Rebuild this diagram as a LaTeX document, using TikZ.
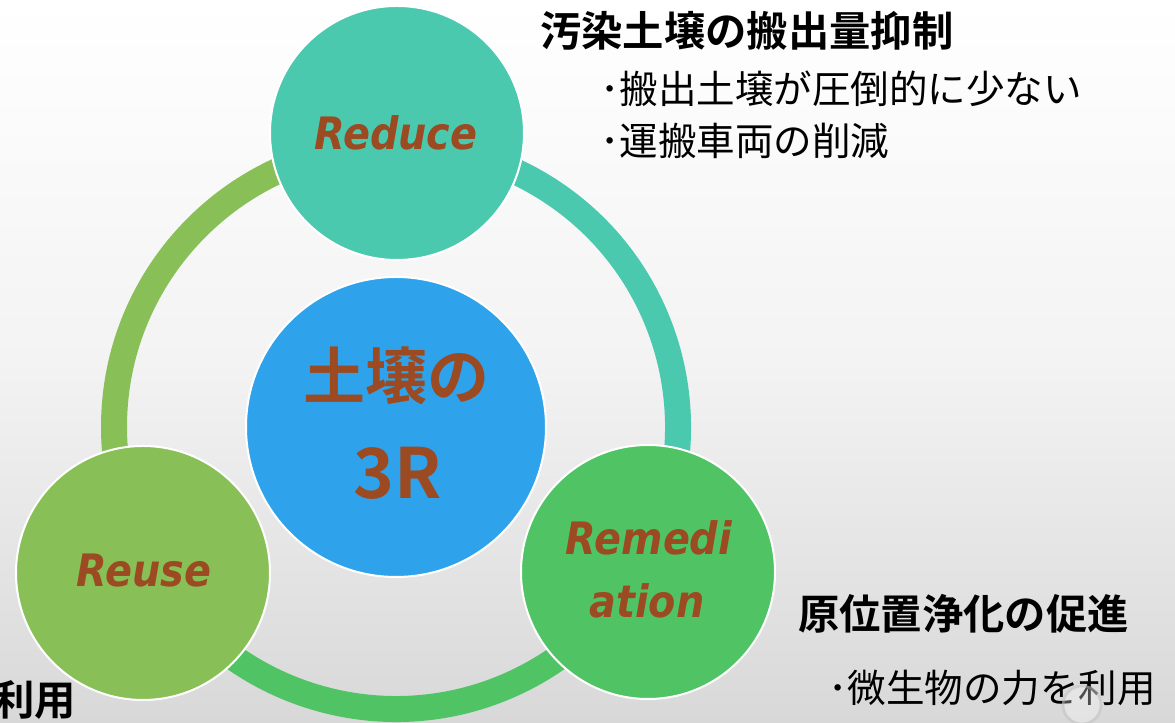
\documentclass[tikz,border=0pt]{standalone}
\usepackage{fontspec}
\newfontfamily\jp{Noto Sans CJK JP}[BoldFont={Noto Sans CJK JP Bold}]
\newfontfamily\lat{DejaVu Sans}[FakeStretch=0.89]
\definecolor{cteal}{RGB}{75,201,174}
\definecolor{clime}{RGB}{136,192,87}
\definecolor{cgreen}{RGB}{80,196,100}
\definecolor{cblue}{RGB}{46,163,236}
\definecolor{cbrown}{RGB}{156,74,34}
\definecolor{bgmid}{RGB}{243,243,243}
\definecolor{bgbot}{RGB}{216,216,216}
\begin{document}
\begin{tikzpicture}[x=0.75pt,y=0.75pt,
  ball/.style={circle, draw=white, line width=1.5pt, minimum size=190.5pt, inner sep=0pt},
  rtxt/.style={font=\lat\bfseries\itshape\fontsize{33.5}{33.5}\selectfont, text=cbrown, inner sep=0pt, anchor=base},
  ctxt/.style={font=\jp\bfseries\fontsize{46.5}{46.5}\selectfont, text=cbrown, inner sep=0pt},
  ringarc/.style={line width=19.5pt},
  headtxt/.style={font=\jp\bfseries\fontsize{31}{31}\selectfont, text=black, inner sep=0pt, anchor=west},
  bultxt/.style={font=\jp\fontsize{28.9}{29}\selectfont, text=black, inner sep=0pt, anchor=west}]
% background
\shade[top color=white, bottom color=bgbot, middle color=bgmid] (0,0) rectangle (1175,723);
\useasboundingbox (0,0) rectangle (1175,723);
% ring
\coordinate (ctr) at (396,296);
\draw[ringarc, clime] (ctr) ++(90:282) arc[start angle=90, end angle=210, radius=282];
\draw[ringarc, cteal] (ctr) ++(-30:282) arc[start angle=-30, end angle=90, radius=282];
\draw[ringarc, cgreen] (ctr) ++(210:282) arc[start angle=210, end angle=330, radius=282];
% circles
\node[ball, fill=cteal] (reduce) at (397,590) {};
\node[ball, fill=clime] (reuse) at (143,150) {};
\node[ball, fill=cgreen] (remed) at (648,151) {};
\node[ball, fill=cblue, minimum size=225pt] (center) at (396,296) {};
% circle labels
\node[rtxt] (reducet) at (396,573) {Reduce};
\node[rtxt] (reuset) at (144,136) {Reuse};
\node[rtxt] (remedt1) at (649,168) {Remedi};
\node[rtxt] (remedt2) at (647,105) {ation};
\node[ctxt] (centt1) at (396,347) {土壌の};
\node[ctxt, font=\jp\bfseries\fontsize{52}{52}\selectfont] (centt2) at (398,250) {3R};
% side texts
\node[headtxt] (h1) at (540,692) {汚染土壌の搬出量抑制};
\node[bultxt] (b11) at (600,634) {･搬出土壌が圧倒的に少ない};
\node[bultxt] (b12) at (600,582) {･運搬車両の削減};
\node[headtxt] (h2) at (798,109) {原位置浄化の促進};
\node[bultxt] (b21) at (828,35) {･微生物の力を利用};
\node[headtxt, anchor=east] (h3) at (76,23) {利用};
% faint slide button
\fill[white, opacity=0.3] (1082,18) circle (20);
\draw[gray!60, line width=2pt, opacity=0.45] (1082,18) circle (19);
\end{tikzpicture}
\end{document}
